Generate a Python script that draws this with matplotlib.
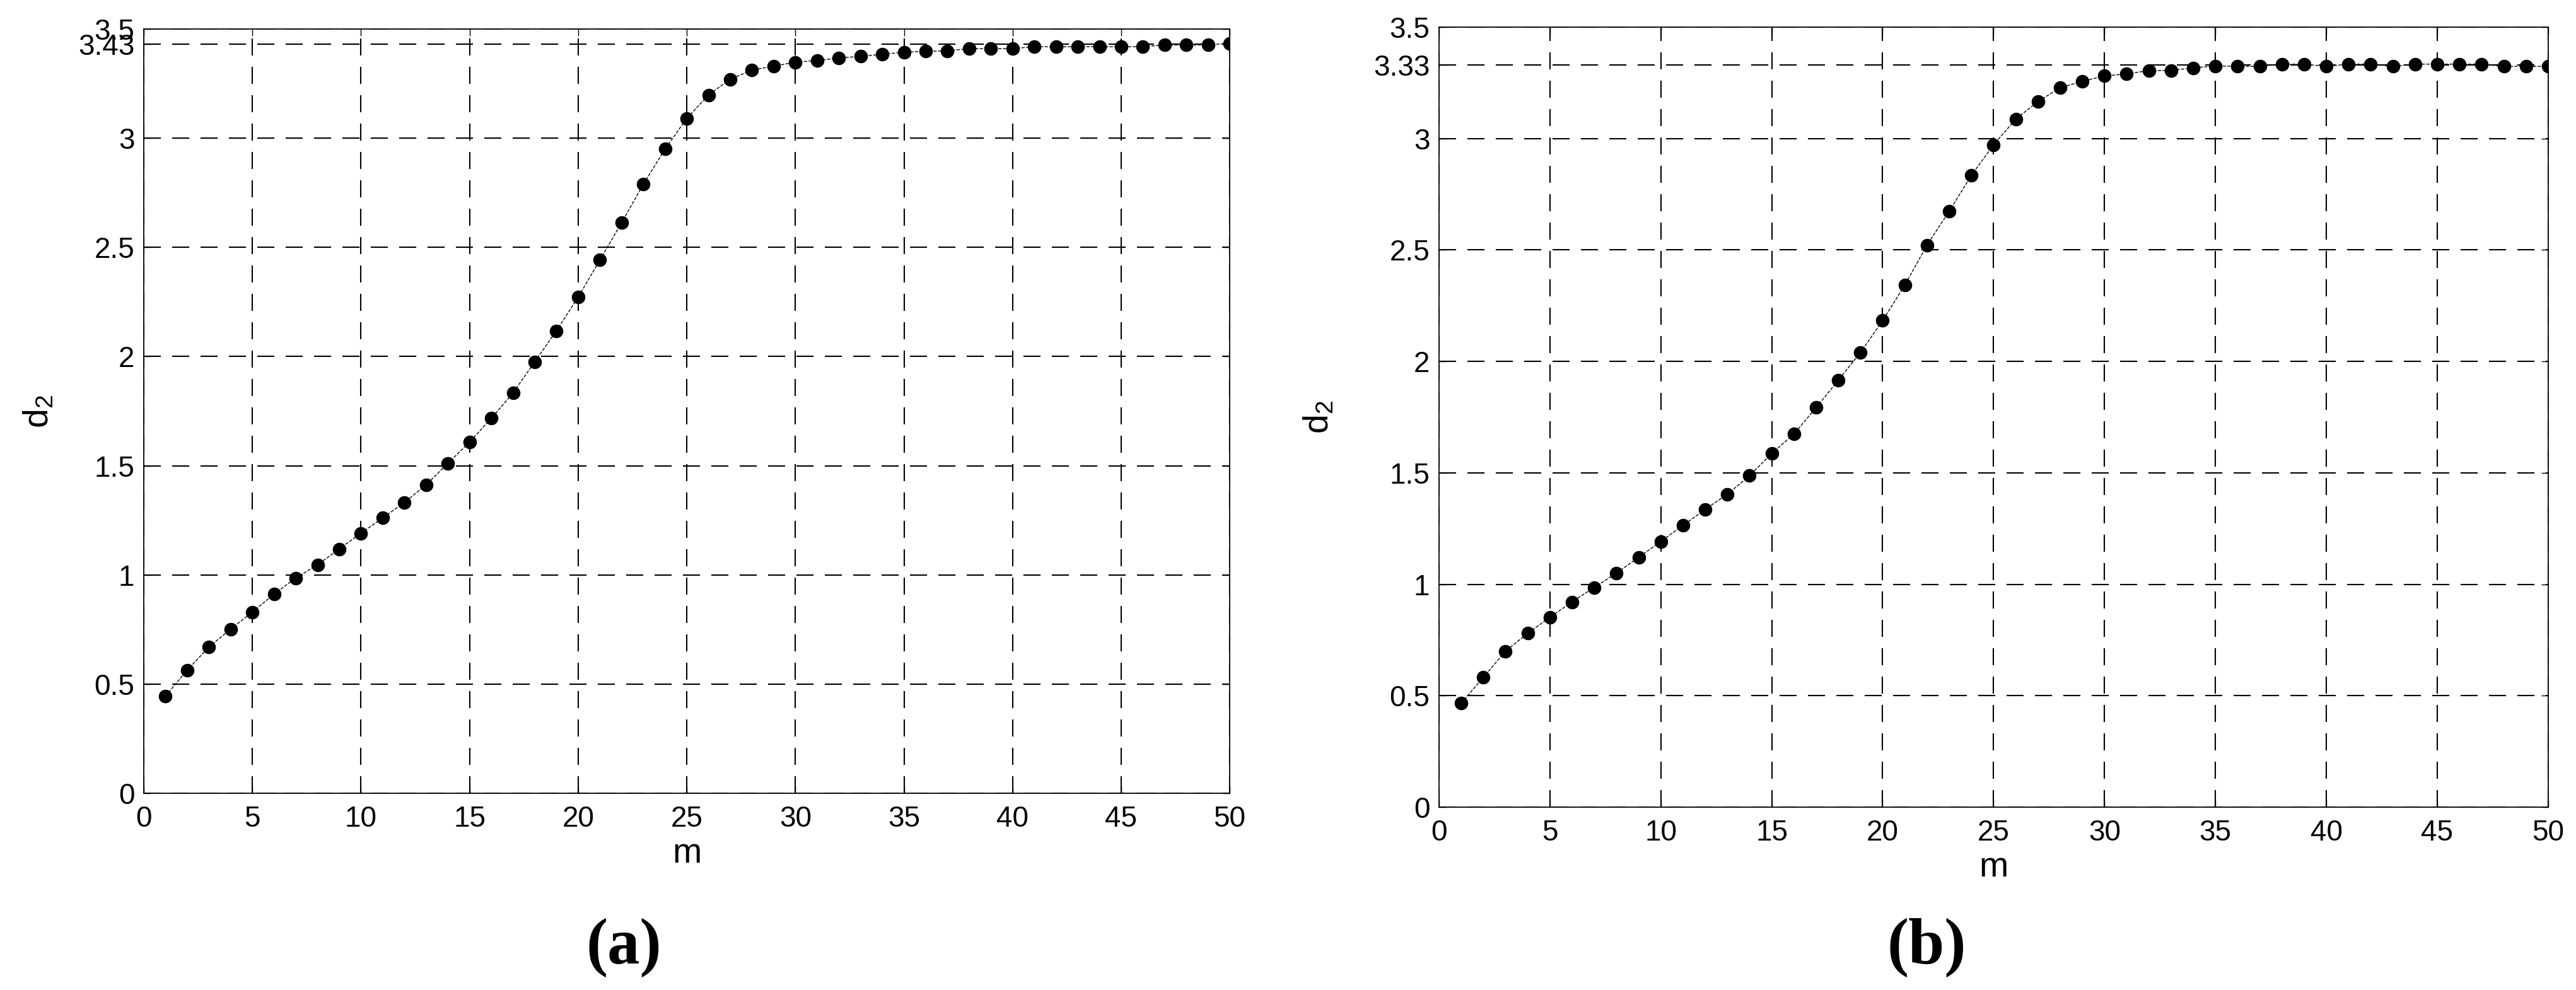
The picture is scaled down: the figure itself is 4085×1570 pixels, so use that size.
import numpy as np
import matplotlib
matplotlib.use("Agg")
import matplotlib.pyplot as plt

plt.rcParams['font.family'] = ['Liberation Sans', 'DejaVu Sans']
plt.rcParams['mathtext.fontset'] = 'custom'
plt.rcParams['mathtext.rm'] = 'Liberation Sans'

# embedding dimension m and correlation dimension d2
m = np.arange(1, 51)

d2_a = [0.445, 0.564, 0.670, 0.752, 0.830, 0.912, 0.986, 1.046, 1.119, 1.191,
        1.261, 1.332, 1.412, 1.511, 1.608, 1.717, 1.833, 1.976, 2.118, 2.272,
        2.442, 2.613, 2.789, 2.950, 3.091, 3.198, 3.270, 3.312, 3.330, 3.348,
        3.356, 3.367, 3.375, 3.384, 3.394, 3.398, 3.400, 3.410, 3.410, 3.410,
        3.419, 3.419, 3.419, 3.419, 3.419, 3.419, 3.427, 3.427, 3.427, 3.435]

d2_b = [0.467, 0.582, 0.700, 0.780, 0.852, 0.921, 0.986, 1.050, 1.121, 1.192,
        1.264, 1.336, 1.404, 1.487, 1.587, 1.674, 1.793, 1.915, 2.040, 2.183,
        2.343, 2.522, 2.674, 2.835, 2.972, 3.087, 3.166, 3.228, 3.257, 3.281,
        3.290, 3.305, 3.306, 3.317, 3.326, 3.324, 3.324, 3.334, 3.334, 3.324,
        3.334, 3.334, 3.324, 3.334, 3.334, 3.334, 3.334, 3.324, 3.324, 3.324]

xticks = np.arange(0, 51, 5)
yticks_a = [0, 0.5, 1, 1.5, 2, 2.5, 3, 3.43, 3.5]
ylabels_a = ['0', '0.5', '1', '1.5', '2', '2.5', '3', '3.43', '3.5']
yticks_b = [0, 0.5, 1, 1.5, 2, 2.5, 3, 3.33, 3.5]
ylabels_b = ['0', '0.5', '1', '1.5', '2', '2.5', '3', '3.33', '3.5']

fig = plt.figure(figsize=(40.85, 15.70), dpi=100)
ax_a = fig.add_axes([0.0558, 0.1987, 0.4216, 0.7720])
ax_b = fig.add_axes([0.5586, 0.1847, 0.4306, 0.7879])

panels = [(ax_a, d2_a, yticks_a, ylabels_a, -0.081),
          (ax_b, d2_b, yticks_b, ylabels_b, -0.093)]

for ax, d2, yt, yl, lx in panels:
    ax.plot(m, d2, color='k', linestyle='--', linewidth=1.0, zorder=3)
    ax.plot(m, d2, 'o', color='k', markersize=14.5, zorder=4)
    ax.set_xlim(0, 50)
    ax.set_ylim(0, 3.5)
    ax.set_xticks(xticks)
    ax.set_yticks(yt)
    ax.set_yticklabels(yl)
    ax.grid(True, color='k', linewidth=1.5, linestyle=(0, (13, 8.6)))
    ax.tick_params(direction='in', top=True, right=True, length=8, width=1,
                   labelsize=33)
    ax.tick_params(axis='y', pad=10.5)
    ax.tick_params(axis='x', pad=14)
    for s in ax.spines.values():
        s.set_linewidth(1.3)
    ax.set_xlabel('m', fontsize=40, labelpad=5)
    ax.set_ylabel(r'$\mathregular{d_2}$', fontsize=40)
    ax.yaxis.set_label_coords(lx, 0.5)

fig.text(0.2421, 0.043, '(a)', fontsize=74, fontweight='bold',
         family='Liberation Serif', ha='center', va='center')
fig.text(0.7479, 0.043, '(b)', fontsize=74, fontweight='bold',
         family='Liberation Serif', ha='center', va='center')

fig.savefig('out.png', dpi=100)
